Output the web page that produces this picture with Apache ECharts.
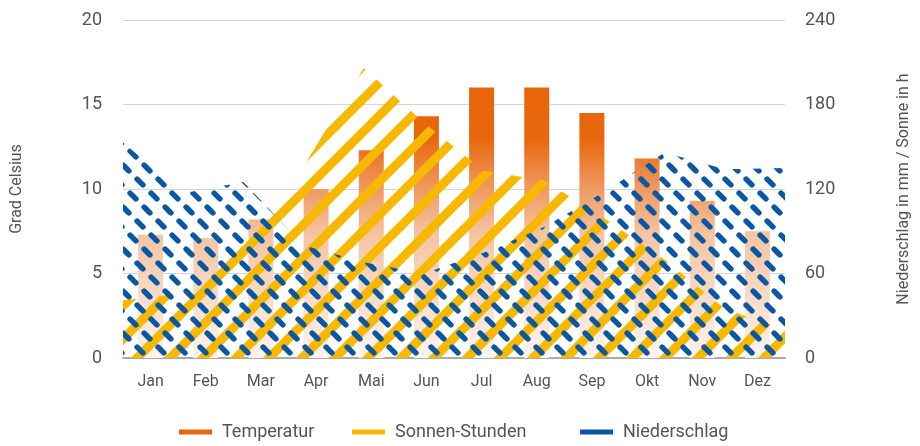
<!DOCTYPE html>
<html>
<head>
<meta charset="utf-8">
<script src="https://cdn.jsdelivr.net/npm/echarts@6/dist/echarts.min.js"></script>
<style>
  html, body { margin: 0; padding: 0; background: #ffffff; }
  #chart { width: 920px; height: 446px; }
</style>
</head>
<body>
<div id="chart"></div>
<script>
const months = ['Jan', 'Feb', 'Mar', 'Apr', 'Mai', 'Jun', 'Jul', 'Aug', 'Sep', 'Okt', 'Nov', 'Dez'];
const temperatur = [7.3, 7.1, 8.2, 10.0, 12.3, 14.3, 16.0, 16.0, 14.5, 11.8, 9.3, 7.5];
const sonnenStunden = [41, 46, 85, 136, 206, 167, 133, 126, 99, 70, 35, 20];
const niederschlag = [153, 117, 125, 80, 68, 60, 75, 93, 118, 146, 134, 135];
const leftTicks = { min: 0, max: 20, interval: 5 };
const rightTicks = { min: 0, max: 240, interval: 60 };

const ORANGE = '#E8650A';
const YELLOW = '#F9B800';
const BLUE = '#0A58A3';
const TEXT = '#555555';
const FONT = 'Roboto';

function yellowPattern() {
  const S = 33;
  const c = document.createElement('canvas');
  c.width = S; c.height = S;
  const ctx = c.getContext('2d');
  ctx.strokeStyle = YELLOW;
  ctx.lineWidth = 9;
  for (let k = 0; k <= 2; k++) {
    ctx.beginPath();
    ctx.moveTo(k * S - 2 * S, 2 * S);
    ctx.lineTo(k * S + 2 * S, -2 * S);
    ctx.stroke();
  }
  return c;
}

function bluePattern() {
  const W = 21, H = 42;
  const c = document.createElement('canvas');
  c.width = W; c.height = H;
  const ctx = c.getContext('2d');
  ctx.strokeStyle = BLUE;
  ctx.lineWidth = 5.5;
  ctx.lineCap = 'round';
  const centers = [[0, 0], [14, 14], [7, 28]];
  const d = 2.9;
  centers.forEach(([cx, cy]) => {
    for (let ox = -1; ox <= 1; ox++) {
      for (let oy = -1; oy <= 1; oy++) {
        const x = cx + ox * W, y = cy + oy * H;
        ctx.beginPath();
        ctx.moveTo(x - d, y - d);
        ctx.lineTo(x + d, y + d);
        ctx.stroke();
      }
    }
  });
  return c;
}

const chart = echarts.init(document.getElementById('chart'), null, { renderer: 'canvas' });

const barGradient = {
  type: 'linear', x: 0, y: 100, x2: 0, y2: 358, global: true,
  colorStops: [
    { offset: 0, color: '#E8650A' },
    { offset: 0.15, color: '#E8670D' },
    { offset: 0.32, color: '#EE9457' },
    { offset: 0.52, color: '#F5C4A2' },
    { offset: 0.78, color: '#FADDC9' },
    { offset: 1, color: '#FEF4EE' }
  ]
};

const legendCommon = {
  top: 418,
  icon: 'rect',
  itemWidth: 33,
  itemHeight: 5,
  itemGap: 7,
  textStyle: { color: TEXT, fontSize: 18, fontFamily: FONT, padding: [0, 0, 0, 5] },
  selectedMode: false
};

chart.setOption({
  animation: false,
  textStyle: { fontFamily: FONT },
  grid: { left: 123, right: 133, top: 20, bottom: 88, containLabel: false },
  legend: [
    Object.assign({}, legendCommon, { left: 174, data: [{ name: 'Temperatur', itemStyle: { color: ORANGE } }] }),
    Object.assign({}, legendCommon, { left: 347, data: [{ name: 'Sonnen-Stunden', itemStyle: { color: YELLOW } }] }),
    Object.assign({}, legendCommon, { left: 575, data: [{ name: 'Niederschlag', itemStyle: { color: BLUE } }] })
  ],
  xAxis: [
    {
      type: 'category',
      data: months,
      boundaryGap: true,
      axisLine: { show: true, lineStyle: { color: '#AAAAAA', width: 2 } },
      axisTick: { show: false },
      axisLabel: { color: TEXT, fontSize: 16, margin: 16, fontFamily: FONT }
    },
    {
      type: 'category',
      data: months,
      boundaryGap: false,
      show: false
    }
  ],
  yAxis: [
    {
      type: 'value',
      min: leftTicks.min, max: leftTicks.max, interval: leftTicks.interval,
      name: 'Grad Celsius',
      nameLocation: 'middle',
      nameGap: 98,
      nameTextStyle: { color: TEXT, fontSize: 16, fontFamily: FONT },
      axisLine: { show: false },
      axisTick: { show: false },
      axisLabel: { color: TEXT, fontSize: 18, margin: 21, fontFamily: FONT },
      splitLine: { show: true, lineStyle: { color: '#D5D5D5', width: 1 } }
    },
    {
      type: 'value',
      min: rightTicks.min, max: rightTicks.max, interval: rightTicks.interval,
      name: 'Niederschlag in mm / Sonne in h',
      nameLocation: 'middle',
      nameGap: 111,
      nameTextStyle: { color: TEXT, fontSize: 16, fontFamily: FONT },
      axisLine: { show: false },
      axisTick: { show: false },
      axisLabel: { color: TEXT, fontSize: 18, margin: 20, fontFamily: FONT },
      splitLine: { show: false }
    }
  ],
  series: [
    {
      name: 'Temperatur',
      type: 'bar',
      xAxisIndex: 0,
      yAxisIndex: 0,
      data: temperatur,
      barWidth: 25,
      itemStyle: { color: barGradient }
    },
    {
      name: 'Sonnen-Stunden',
      type: 'line',
      xAxisIndex: 1,
      yAxisIndex: 1,
      data: sonnenStunden,
      symbol: 'none',
      color: YELLOW,
      lineStyle: { width: 0, opacity: 0 },
      areaStyle: { color: { image: yellowPattern(), repeat: 'repeat' }, opacity: 1 }
    },
    {
      name: 'Niederschlag',
      type: 'line',
      xAxisIndex: 1,
      yAxisIndex: 1,
      data: niederschlag,
      symbol: 'none',
      color: BLUE,
      lineStyle: { width: 0, opacity: 0 },
      areaStyle: { color: { image: bluePattern(), repeat: 'repeat' }, opacity: 1 }
    }
  ]
});
</script>
</body>
</html>
